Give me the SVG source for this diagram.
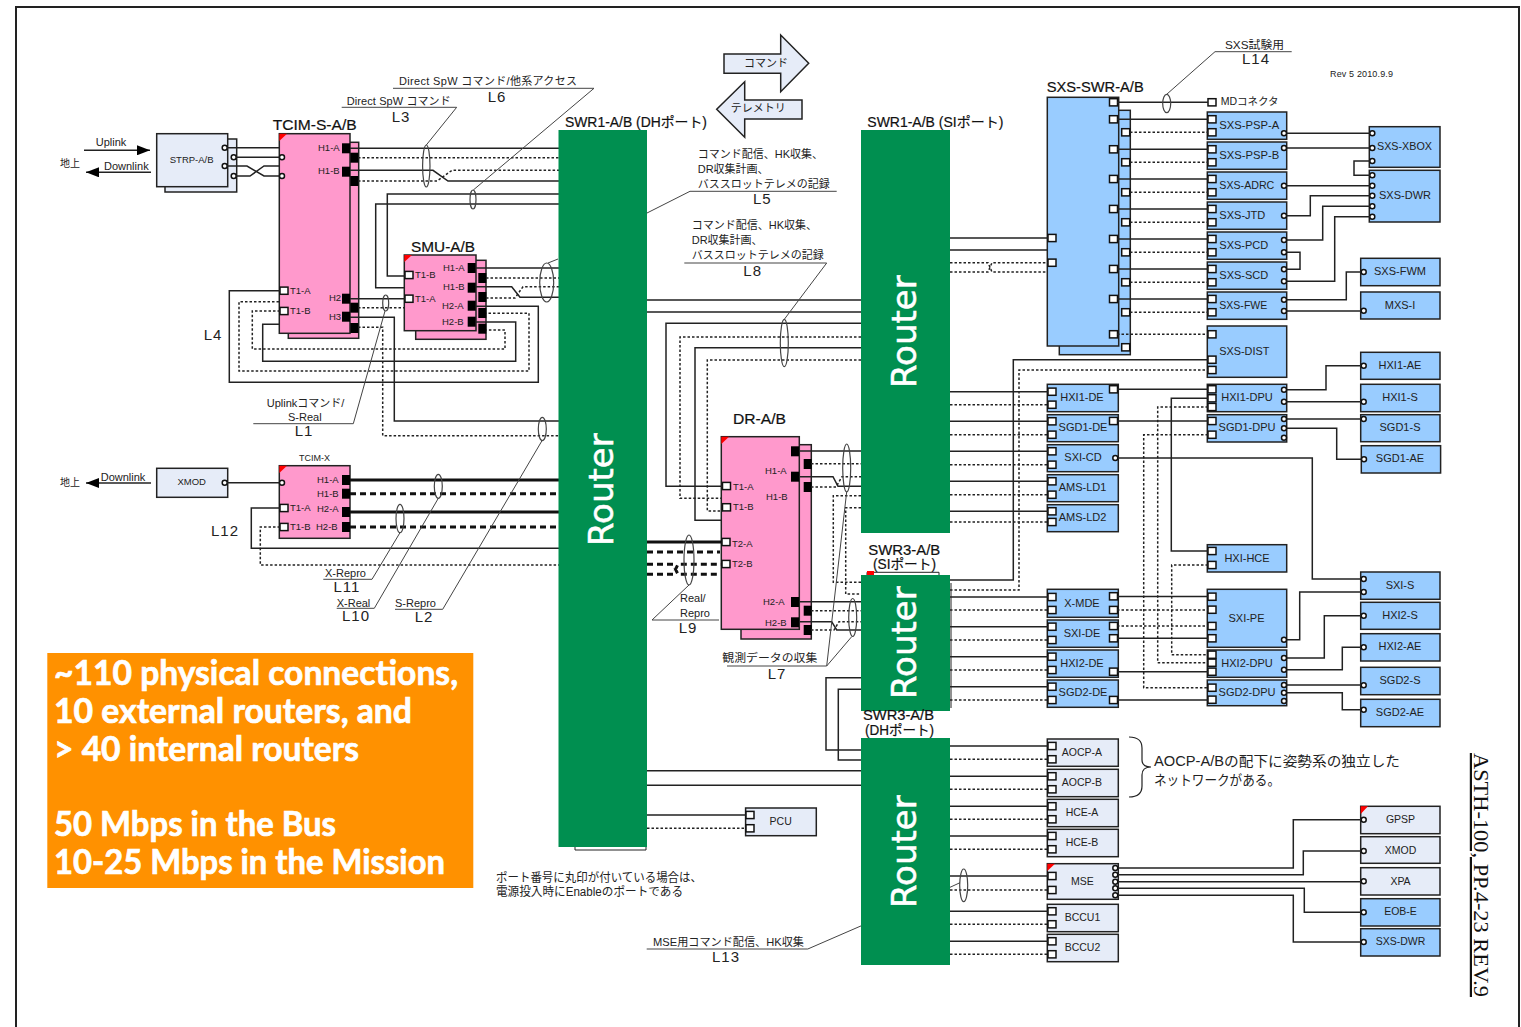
<svg xmlns="http://www.w3.org/2000/svg" width="1521" height="1027" viewBox="0 0 1521 1027">
<style>
text{font-family:"Liberation Sans","Noto Sans CJK JP",sans-serif;fill:#222}
.c{dominant-baseline:central}
.m{text-anchor:middle}
.n{font-size:11px}
.p{font-size:9.5px}
.t{font-size:14px;fill:#111;stroke:#111;stroke-width:.2}
.l{font-size:15px;text-anchor:middle;letter-spacing:1px}
.rt{font-family:"DejaVu Sans",sans-serif;font-size:34px;fill:#fff;stroke:#fff;stroke-width:.5}
.o{font-family:Lato,"Open Sans",sans-serif;font-weight:700;font-size:34px;fill:#fff;stroke:#fff;stroke-width:.7}
.router{fill:#008f50}
.pk{fill:#ff99cc;stroke:#222;stroke-width:1.5}
.bl{fill:#99ccff;stroke:#222;stroke-width:1.5}
.gr{fill:#e6ecf8;stroke:#222;stroke-width:1.5}
.red{fill:#f00}
path,line{fill:none}
.s{stroke:#222;stroke-width:1.5;fill:none}
.d{stroke:#222;stroke-width:1.5;stroke-dasharray:2.5 2;fill:none}
.ts{stroke:#111;stroke-width:3;fill:none}
.td{stroke:#111;stroke-width:3;stroke-dasharray:6 4;fill:none}
.g{stroke:#444;stroke-width:1;fill:none}
.e{stroke:#444;stroke-width:1.2;fill:none}
.pw{fill:#fff;stroke:#111;stroke-width:1.5}
.pb{fill:#000}
.pc{fill:#fff;stroke:#111;stroke-width:1.5}
</style>
<defs>
<rect id="w" class="pw" x="-4" y="-3.6" width="8" height="7.2"/>
<rect id="b" class="pb" x="-4" y="-5" width="8" height="10"/>
<circle id="o" class="pc" r="2.5"/>
<marker id="ah" markerUnits="userSpaceOnUse" markerWidth="14" markerHeight="10" refX="13" refY="5" orient="auto-start-reverse"><path d="M0,0L13,5L0,10Z" style="fill:#000"/></marker>
</defs>
<rect width="1521" height="1027" fill="#fff"/>
<path d="M16,1027V7H1519V1027" style="stroke:#222;stroke-width:2"/>

<g id="node-strp"><rect class="gr" x="165" y="139" width="71.7" height="53"/><rect class="gr" x="156.7" y="133.7" width="71" height="53"/><text class="p c m" x="191.7" y="159.3">STRP-A/B</text><use href="#o" x="224.7" y="147.7"/><use href="#o" x="233.7" y="157.3"/><use href="#o" x="224.7" y="166"/><use href="#o" x="233.7" y="176"/></g>

<g id="node-tcim-s"><rect class="pk" x="288.3" y="142.3" width="70.4" height="196"/><rect class="pk" x="279.3" y="133.7" width="70.7" height="199.6"/><polygon class="red" points="279.3,133.7 287,133.7 279.3,141"/>
<text class="t" x="272.7" y="130" textLength="84" lengthAdjust="spacingAndGlyphs">TCIM-S-A/B</text>
<use href="#b" x="346" y="148.3"/><use href="#b" x="346" y="171.7"/><use href="#b" x="346" y="298.7"/><use href="#b" x="346" y="316.7"/><use href="#b" x="354.3" y="157.7"/><use href="#b" x="354.3" y="181"/><use href="#b" x="354.3" y="307.7"/><use href="#b" x="354.3" y="328"/>
<use href="#o" x="282" y="157.3"/><use href="#o" x="282" y="176"/><use href="#w" x="284" y="290.7"/><use href="#w" x="284" y="311"/>
<text class="p c" x="318" y="147.5">H1-A</text><text class="p c" x="318" y="170.5">H1-B</text><text class="p c" x="329" y="297.5">H2</text><text class="p c" x="329" y="316.5">H3</text><text class="p c" x="290" y="290">T1-A</text><text class="p c" x="290" y="310.5">T1-B</text></g>

<g id="node-smu"><rect class="pk" x="415.7" y="260.3" width="70.3" height="79"/><rect class="pk" x="404.3" y="255" width="71.7" height="75.7"/><polygon class="red" points="404.3,255 412,255 404.3,262"/>
<text class="t" x="411" y="252" textLength="64" lengthAdjust="spacingAndGlyphs">SMU-A/B</text>
<use href="#b" x="471.7" y="268"/><use href="#b" x="471.7" y="287.7"/><use href="#b" x="471.7" y="305.7"/><use href="#b" x="471.7" y="321.7"/><use href="#b" x="482.3" y="278"/><use href="#b" x="482.3" y="297"/><use href="#b" x="482.3" y="313"/><use href="#b" x="482.3" y="328.7"/>
<use href="#w" x="409" y="275"/><use href="#w" x="409" y="298.7"/>
<text class="p c" x="443" y="267.5">H1-A</text><text class="p c" x="443" y="286.5">H1-B</text><text class="p c" x="442" y="305">H2-A</text><text class="p c" x="442" y="321">H2-B</text><text class="p c" x="415" y="274.5">T1-B</text><text class="p c" x="415" y="298.5">T1-A</text></g>

<g id="node-xmod1"><rect class="gr" x="156.7" y="468.3" width="71" height="29"/><text class="p c m" x="191.7" y="481.7">XMOD</text><use href="#o" x="224.7" y="482.7"/></g>

<g id="node-tcim-x"><rect class="pk" x="279.3" y="465.7" width="70.7" height="72.6"/><polygon class="red" points="279.3,465.7 287,465.7 279.3,473"/>
<text class="m" x="314.5" y="460.7" style="font-size:9px">TCIM-X</text>
<use href="#b" x="346" y="480"/><use href="#b" x="346" y="493.7"/><use href="#b" x="346" y="512"/><use href="#b" x="346" y="527"/><use href="#o" x="282" y="482.7"/><use href="#w" x="284" y="508"/><use href="#w" x="284" y="527"/>
<text class="p c" x="317" y="479.5">H1-A</text><text class="p c" x="317" y="493">H1-B</text><text class="p c" x="317" y="508">H2-A</text><text class="p c" x="316" y="526.5">H2-B</text><text class="p c" x="290" y="507.5">T1-A</text><text class="p c" x="290" y="526.5">T1-B</text></g>

<g id="node-dr"><rect class="pk" x="741" y="444.7" width="70.3" height="194.3"/><rect class="pk" x="721.3" y="436.7" width="78" height="192.6"/><polygon class="red" points="721.3,436.7 729,436.7 721.3,444"/>
<text class="t" x="733" y="424" textLength="53" lengthAdjust="spacingAndGlyphs">DR-A/B</text>
<use href="#b" x="795" y="451.3"/><use href="#b" x="795" y="476.7"/><use href="#b" x="795" y="602"/><use href="#b" x="795" y="622.3"/><use href="#b" x="807.7" y="464"/><use href="#b" x="807.7" y="487"/><use href="#b" x="807.7" y="610.7"/><use href="#b" x="807.7" y="630"/>
<use href="#w" x="726.5" y="486"/><use href="#w" x="726.5" y="507.3"/><use href="#w" x="726" y="542"/><use href="#w" x="726" y="564"/>
<text class="p c" x="765" y="470">H1-A</text><text class="p c" x="766" y="496.7">H1-B</text><text class="p c" x="763" y="601.7">H2-A</text><text class="p c" x="765" y="622.7">H2-B</text><text class="p c" x="733" y="486.7">T1-A</text><text class="p c" x="733" y="506.7">T1-B</text><text class="p c" x="732" y="543.3">T2-A</text><text class="p c" x="732" y="563.7">T2-B</text></g>

<g id="node-pcu"><rect class="gr" x="745.6" y="808" width="70.7" height="27.7"/><use href="#w" x="750" y="815"/><use href="#w" x="750" y="828.3"/><text class="p c m" x="780.7" y="821" style="font-size:10.5px">PCU</text></g>

<g id="node-sxs-swr"><rect class="bl" x="1059.3" y="110.3" width="71" height="244.4"/><rect class="bl" x="1047.3" y="97.3" width="71.4" height="248.7"/>
<text class="t" x="1046.7" y="92.3" textLength="97" lengthAdjust="spacingAndGlyphs">SXS-SWR-A/B</text>
<use href="#w" x="1052" y="238"/><use href="#w" x="1052" y="262.7"/>
<use href="#w" x="1113.5" y="102.3"/><use href="#w" x="1113.5" y="119.3"/><use href="#w" x="1113.5" y="149.3"/><use href="#w" x="1113.5" y="179"/><use href="#w" x="1113.5" y="209"/><use href="#w" x="1113.5" y="239"/><use href="#w" x="1113.5" y="269"/><use href="#w" x="1113.5" y="299"/><use href="#w" x="1113.5" y="334.3"/>
<use href="#w" x="1125.7" y="132.3"/><use href="#w" x="1125.7" y="162.3"/><use href="#w" x="1125.7" y="192.3"/><use href="#w" x="1125.7" y="222.3"/><use href="#w" x="1125.7" y="252.3"/><use href="#w" x="1125.7" y="282.3"/><use href="#w" x="1125.7" y="312.3"/><use href="#w" x="1125.7" y="347.3"/></g>

<g id="node-md"><use href="#w" x="1212" y="102.3"/><text class="c" x="1220.7" y="101" style="font-size:10.5px">MDコネクタ</text></g>

<g id="node-sxs-psp-a"><rect class="bl" x="1207.3" y="112" width="79.4" height="27.3"/><use href="#w" x="1212" y="119.3"/><use href="#w" x="1212" y="132.3"/><use href="#o" x="1284" y="133.3"/><text class="n c" x="1219.3" y="125" textLength="60" lengthAdjust="spacingAndGlyphs">SXS-PSP-A</text></g>
<g id="node-sxs-psp-b"><rect class="bl" x="1207.3" y="142" width="79.4" height="27.3"/><use href="#w" x="1212" y="149.3"/><use href="#w" x="1212" y="162.3"/><use href="#o" x="1284" y="148"/><text class="n c" x="1219.3" y="155" textLength="60" lengthAdjust="spacingAndGlyphs">SXS-PSP-B</text></g>
<g id="node-sxs-adrc"><rect class="bl" x="1207.3" y="172" width="79.4" height="27.3"/><use href="#w" x="1212" y="179"/><use href="#w" x="1212" y="192.3"/><use href="#o" x="1284" y="185.7"/><text class="n c" x="1219.3" y="185" textLength="55" lengthAdjust="spacingAndGlyphs">SXS-ADRC</text></g>
<g id="node-sxs-jtd"><rect class="bl" x="1207.3" y="202" width="79.4" height="27.3"/><use href="#w" x="1212" y="209"/><use href="#w" x="1212" y="222.3"/><use href="#o" x="1284" y="215.7"/><text class="n c" x="1219.3" y="215" textLength="46" lengthAdjust="spacingAndGlyphs">SXS-JTD</text></g>
<g id="node-sxs-pcd"><rect class="bl" x="1207.3" y="232" width="79.4" height="27.3"/><use href="#w" x="1212" y="239"/><use href="#w" x="1212" y="252.3"/><use href="#o" x="1284" y="240"/><use href="#o" x="1284" y="252.3"/><text class="n c" x="1219.3" y="245" textLength="49" lengthAdjust="spacingAndGlyphs">SXS-PCD</text></g>
<g id="node-sxs-scd"><rect class="bl" x="1207.3" y="262" width="79.4" height="27.3"/><use href="#w" x="1212" y="269"/><use href="#w" x="1212" y="282.3"/><use href="#o" x="1284" y="269.3"/><use href="#o" x="1284" y="281.3"/><text class="n c" x="1219.3" y="275" textLength="49" lengthAdjust="spacingAndGlyphs">SXS-SCD</text></g>
<g id="node-sxs-fwe"><rect class="bl" x="1207.3" y="292" width="79.4" height="27.3"/><use href="#w" x="1212" y="299"/><use href="#w" x="1212" y="312.3"/><use href="#o" x="1284" y="299.7"/><use href="#o" x="1284" y="311"/><text class="n c" x="1219.3" y="305" textLength="48" lengthAdjust="spacingAndGlyphs">SXS-FWE</text></g>
<g id="node-sxs-dist"><rect class="bl" x="1207.3" y="326" width="79.4" height="51.3"/><use href="#w" x="1212" y="334.3"/><use href="#w" x="1212" y="359.7"/><use href="#w" x="1212" y="370"/><text class="n c" x="1219.3" y="351" textLength="50" lengthAdjust="spacingAndGlyphs">SXS-DIST</text></g>

<g id="node-sxs-xbox"><rect class="bl" x="1369.3" y="126.7" width="70.7" height="40.6"/><use href="#o" x="1372.3" y="133.3"/><use href="#o" x="1372.3" y="148"/><use href="#o" x="1372.3" y="161"/><text class="n c" x="1377" y="146" textLength="55" lengthAdjust="spacingAndGlyphs">SXS-XBOX</text></g>
<g id="node-sxs-dwr"><rect class="bl" x="1369.3" y="170.3" width="70.7" height="51.7"/><use href="#o" x="1372.3" y="175.3"/><use href="#o" x="1372.3" y="185.7"/><use href="#o" x="1372.3" y="195.7"/><use href="#o" x="1372.3" y="206.3"/><use href="#o" x="1372.3" y="216.7"/><text class="n c m" x="1405" y="195">SXS-DWR</text></g>
<g id="node-sxs-fwm"><rect class="bl" x="1360.7" y="258.3" width="79.3" height="27.4"/><use href="#o" x="1363.7" y="272"/><text class="n c m" x="1400" y="271">SXS-FWM</text></g>
<g id="node-mxs-i"><rect class="bl" x="1360.7" y="292" width="79.3" height="27"/><use href="#o" x="1363.7" y="310.7"/><text class="n c m" x="1400" y="305">MXS-I</text></g>
<g id="node-hxi1-ae"><rect class="bl" x="1360.7" y="352.3" width="79.3" height="27"/><use href="#o" x="1363.7" y="365.7"/><text class="n c m" x="1400" y="365">HXI1-AE</text></g>
<g id="node-hxi1-s"><rect class="bl" x="1360.7" y="384.3" width="79.3" height="27.4"/><use href="#o" x="1363.7" y="401.7"/><text class="n c m" x="1400" y="397">HXI1-S</text></g>
<g id="node-sgd1-s"><rect class="bl" x="1360.7" y="414.7" width="79.3" height="27"/><use href="#o" x="1363.7" y="419"/><text class="n c m" x="1400" y="427">SGD1-S</text></g>
<g id="node-sgd1-ae"><rect class="bl" x="1361.3" y="445.7" width="79.3" height="27.3"/><use href="#o" x="1364" y="459.3"/><text class="n c m" x="1400" y="458">SGD1-AE</text></g>
<g id="node-sxi-s"><rect class="bl" x="1360.7" y="572" width="79.3" height="27.3"/><use href="#o" x="1363.7" y="579"/><use href="#o" x="1363.7" y="592"/><text class="n c m" x="1400" y="585">SXI-S</text></g>
<g id="node-hxi2-s"><rect class="bl" x="1360.7" y="602.3" width="79.3" height="27"/><use href="#o" x="1363.7" y="615.7"/><text class="n c m" x="1400" y="615">HXI2-S</text></g>
<g id="node-hxi2-ae"><rect class="bl" x="1360.7" y="633.7" width="79.3" height="27.3"/><use href="#o" x="1363.7" y="647.3"/><text class="n c m" x="1400" y="646">HXI2-AE</text></g>
<g id="node-sgd2-s"><rect class="bl" x="1360.7" y="667.3" width="79.3" height="27.4"/><use href="#o" x="1363.7" y="685.3"/><text class="n c m" x="1400" y="680">SGD2-S</text></g>
<g id="node-sgd2-ae"><rect class="bl" x="1360.7" y="699.3" width="79.3" height="27.4"/><use href="#o" x="1363.7" y="709.7"/><text class="n c m" x="1400" y="712">SGD2-AE</text></g>

<g id="node-hxi1-de"><rect class="bl" x="1047.3" y="384.3" width="71" height="27.4"/><use href="#w" x="1052" y="391.7"/><use href="#w" x="1052" y="404.7"/><use href="#w" x="1113.5" y="389.3"/><text class="n c m" x="1082" y="397">HXI1-DE</text></g>
<g id="node-sgd1-de"><rect class="bl" x="1047.3" y="414.7" width="71" height="27"/><use href="#w" x="1052" y="421.3"/><use href="#w" x="1052" y="434.7"/><use href="#w" x="1113.5" y="421"/><text class="n c m" x="1083" y="427">SGD1-DE</text></g>
<g id="node-sxi-cd"><rect class="bl" x="1047.3" y="444.7" width="71" height="27"/><use href="#w" x="1052" y="451.3"/><use href="#w" x="1052" y="464.7"/><use href="#o" x="1115.3" y="458"/><text class="n c m" x="1083" y="457">SXI-CD</text></g>
<g id="node-ams-ld1"><rect class="bl" x="1047.3" y="474.7" width="71" height="27"/><use href="#w" x="1052" y="481.3"/><use href="#w" x="1052" y="494.7"/><text class="n c m" x="1082.5" y="487">AMS-LD1</text></g>
<g id="node-ams-ld2"><rect class="bl" x="1047.3" y="504.7" width="71" height="27"/><use href="#w" x="1052" y="511.3"/><use href="#w" x="1052" y="522"/><text class="n c m" x="1082.5" y="517">AMS-LD2</text></g>
<g id="node-x-mde"><rect class="bl" x="1047.3" y="589.3" width="71" height="28"/><use href="#w" x="1052" y="597"/><use href="#w" x="1052" y="610"/><use href="#w" x="1113.5" y="596.3"/><use href="#w" x="1113.5" y="610"/><text class="n c m" x="1082" y="603">X-MDE</text></g>
<g id="node-sxi-de"><rect class="bl" x="1047.3" y="620" width="71" height="27.3"/><use href="#w" x="1052" y="626.7"/><use href="#w" x="1052" y="640"/><use href="#w" x="1113.5" y="626"/><use href="#w" x="1113.5" y="638.3"/><text class="n c m" x="1082" y="632.5">SXI-DE</text></g>
<g id="node-hxi2-de"><rect class="bl" x="1047.3" y="650" width="71" height="27.3"/><use href="#w" x="1052" y="656.7"/><use href="#w" x="1052" y="670"/><use href="#w" x="1113.5" y="671.7"/><text class="n c m" x="1082" y="663">HXI2-DE</text></g>
<g id="node-sgd2-de"><rect class="bl" x="1047.3" y="680" width="71" height="27.3"/><use href="#w" x="1052" y="686.7"/><use href="#w" x="1052" y="700"/><use href="#w" x="1113.5" y="700"/><text class="n c m" x="1083" y="692">SGD2-DE</text></g>

<g id="node-hxi1-dpu"><rect class="bl" x="1207.3" y="384.3" width="79.4" height="27.4"/><use href="#w" x="1212" y="389.3"/><use href="#w" x="1212" y="398.3"/><use href="#w" x="1212" y="407"/><use href="#o" x="1284" y="389.7"/><use href="#o" x="1284" y="401.7"/><text class="n c m" x="1247" y="397">HXI1-DPU</text></g>
<g id="node-sgd1-dpu"><rect class="bl" x="1207.3" y="414.7" width="79.4" height="27.3"/><use href="#w" x="1212" y="421"/><use href="#w" x="1212" y="434.7"/><use href="#o" x="1284" y="419"/><use href="#o" x="1284" y="428.3"/><use href="#o" x="1284" y="437.7"/><text class="n c m" x="1247" y="427">SGD1-DPU</text></g>
<g id="node-hxi-hce"><rect class="bl" x="1207.3" y="544.7" width="79.4" height="27.3"/><use href="#w" x="1212" y="551"/><use href="#w" x="1212" y="565"/><text class="n c m" x="1247" y="557.5">HXI-HCE</text></g>
<g id="node-sxi-pe"><rect class="bl" x="1207.3" y="589.3" width="79.4" height="58"/><use href="#w" x="1212" y="596.7"/><use href="#w" x="1212" y="609.7"/><use href="#w" x="1212" y="626"/><use href="#w" x="1212" y="638.3"/><use href="#o" x="1284" y="639.7"/><text class="n c m" x="1246.5" y="617.5">SXI-PE</text></g>
<g id="node-hxi2-dpu"><rect class="bl" x="1207.3" y="650" width="79.4" height="27.3"/><use href="#w" x="1212" y="654.7"/><use href="#w" x="1212" y="662.7"/><use href="#w" x="1212" y="671.7"/><use href="#o" x="1284" y="658"/><use href="#o" x="1284" y="669.7"/><text class="n c m" x="1247" y="663">HXI2-DPU</text></g>
<g id="node-sgd2-dpu"><rect class="bl" x="1207.3" y="680" width="79.4" height="25.7"/><use href="#w" x="1212" y="687.7"/><use href="#w" x="1212" y="699.7"/><use href="#o" x="1284" y="685"/><use href="#o" x="1284" y="692.7"/><use href="#o" x="1284" y="701"/><text class="n c m" x="1247" y="692">SGD2-DPU</text></g>

<g id="node-aocp-a"><rect class="gr" x="1047.3" y="739" width="71" height="27.3"/><use href="#w" x="1052" y="746"/><use href="#w" x="1052" y="759.3"/><text class="p c m" x="1082" y="751.7" style="font-size:10.5px">AOCP-A</text></g>
<g id="node-aocp-b"><rect class="gr" x="1047.3" y="769.3" width="71" height="27.4"/><use href="#w" x="1052" y="776.3"/><use href="#w" x="1052" y="789.3"/><text class="p c m" x="1082" y="782" style="font-size:10.5px">AOCP-B</text></g>
<g id="node-hce-a"><rect class="gr" x="1047.3" y="799.3" width="71" height="27.4"/><use href="#w" x="1052" y="806.3"/><use href="#w" x="1052" y="819.3"/><text class="p c m" x="1082" y="812" style="font-size:10.5px">HCE-A</text></g>
<g id="node-hce-b"><rect class="gr" x="1047.3" y="829.3" width="71" height="27.4"/><use href="#w" x="1052" y="836"/><use href="#w" x="1052" y="849.3"/><text class="p c m" x="1082" y="842" style="font-size:10.5px">HCE-B</text></g>
<g id="node-mse"><rect class="gr" x="1047.3" y="863.7" width="71" height="35.6"/><polygon class="red" points="1047.3,863.7 1055,863.7 1047.3,871"/><use href="#w" x="1052" y="876"/><use href="#w" x="1052" y="890"/><use href="#o" x="1115.3" y="868"/><use href="#o" x="1115.3" y="874.7"/><use href="#o" x="1115.3" y="881.7"/><use href="#o" x="1115.3" y="888.3"/><use href="#o" x="1115.3" y="895.3"/><text class="p c m" x="1082.5" y="881" style="font-size:10.5px">MSE</text></g>
<g id="node-bccu1"><rect class="gr" x="1047.3" y="904.3" width="71" height="27.4"/><use href="#w" x="1052" y="911.3"/><use href="#w" x="1052" y="924.3"/><text class="p c m" x="1082.5" y="917" style="font-size:10.5px">BCCU1</text></g>
<g id="node-bccu2"><rect class="gr" x="1047.3" y="934.3" width="71" height="27.4"/><use href="#w" x="1052" y="941.3"/><use href="#w" x="1052" y="954.3"/><text class="p c m" x="1082.5" y="947" style="font-size:10.5px">BCCU2</text></g>
<g id="node-gpsp"><rect class="gr" x="1360.7" y="806.3" width="79.3" height="27.4"/><polygon class="red" points="1360.7,806.3 1368,806.3 1360.7,814"/><use href="#o" x="1363.7" y="819.7"/><text class="p c m" x="1400.5" y="819" style="font-size:10.5px">GPSP</text></g>
<g id="node-xmod2"><rect class="gr" x="1360.7" y="836.7" width="79.3" height="26.6"/><use href="#o" x="1363.7" y="851"/><text class="p c m" x="1400.5" y="849.5" style="font-size:10.5px">XMOD</text></g>
<g id="node-xpa"><rect class="gr" x="1360.7" y="867.7" width="79.3" height="27.3"/><use href="#o" x="1363.7" y="881.3"/><text class="p c m" x="1400.5" y="881" style="font-size:10.5px">XPA</text></g>
<g id="node-eob-e"><rect class="bl" x="1360.7" y="898.7" width="79.3" height="27.3"/><use href="#o" x="1363.7" y="912.3"/><text class="p c m" x="1400.5" y="911" style="font-size:10.5px">EOB-E</text></g>
<g id="node-sxs-dwr2"><rect class="bl" x="1360.7" y="928.7" width="79.3" height="27.3"/><use href="#o" x="1363.7" y="942"/><text class="p c m" x="1400.5" y="941" style="font-size:10.5px">SXS-DWR</text></g>

<g id="swr3-back"><path d="M867,575V572.3H939V575" style="stroke:#222;stroke-width:1"/><rect class="red" x="867" y="571" width="7" height="4"/><path d="M575,847V850H646V847M951,583V708" style="stroke:#222;stroke-width:1"/></g>

<g id="connectors">
<line x1="84" y1="150.3" x2="150" y2="150.3" class="s" marker-end="url(#ah)"/>
<line x1="151" y1="172.3" x2="86" y2="172.3" class="s" marker-end="url(#ah)"/>
<line x1="151" y1="483" x2="86" y2="483" class="s" marker-end="url(#ah)"/>
<path class="s" d="M227,147.7H279M236,157.3H279.5M227,166H247L264,176H279.5M236,176H250L264,166H279"/>
<path class="s" d="M350,148.3H559M350,170.3H433L448,181H559"/>
<path class="d" d="M358,157.7H559M358,181H437L452,170.3H559"/>
<path class="s" d="M405,276H387.3V194H559M405,287.7H375.7V204H559"/>
<path class="s" d="M476,268H559M476,286.7H511.7L520,297.3H559"/>
<path class="d" d="M486,278H559M486,298H515L523,286.7H559"/>
<path class="s" d="M350,298.7H405M350,317.3H394.3V421H559"/>
<path class="d" d="M358,307.7H405M358,327.3H382.7V435.7H559"/>
<path class="s" d="M280,290.7H229.3V382.3H538.3V306.3H476M279,324.3H262.7V361.3H515.7V322H476"/>
<path class="d" d="M280,311H252.3V349H505V330H486M279,301.7H239V371H529V313.3H486"/>
<path class="s" d="M227,482.7H279.5"/>
<path class="ts" d="M350,480H559M350,512H559"/>
<path class="td" d="M350,493.7H559M350,527H559"/>
<path class="s" d="M280,508H251.3V548.3H559"/>
<path class="d" d="M280,527H260.3V565H559"/>
<path class="s" d="M647,300H861M647,312H861M861,323.3H666V486.3H722.5M861,347.7H695V520.3H721"/>
<path class="d" d="M861,337H680V498.3H721M861,360H707.3V511H722.5"/>
<path class="ts" d="M647,542H722"/>
<path class="td" d="M647,552H720M647,564.3H673L678,574.3H720M647,574.3H673L678,564.3H722"/>
<path class="s" d="M799,451H861M799,476.7H833L838,486.3H861M799,601.7H861M799,621.7H831.7L836.7,630H861"/>
<path class="d" d="M811,463.7H861M811,487H836L842,476.7H861M861,495.7H833.3V582.3H861M861,507.7H845.7V594H861M811,610.7H861M811,630H834L839,621.7H861"/>
<path class="s" d="M861,677.7H826V750H861M861,689.3H838.3V760H861M647,770.7H861M647,785.3H861M647,815H746"/>
<path class="d" d="M647,828.3H746"/>
<path class="s" d="M950,238H1048M950,250H1048"/>
<path class="d" d="M950,262.7H988L992,272H1048M950,272H988L992,262.7H1048"/>
<path class="s" d="M1117,102.3H1208M1117,119.3H1208M1117,149.3H1208M1117,179H1208M1117,209H1208M1117,239H1208M1117,269H1208M1117,299H1208"/>
<path class="d" d="M1130,132.3H1208M1130,162.3H1208M1130,192.3H1208M1130,222.3H1208M1130,252.3H1208M1130,282.3H1208M1130,312.3H1208M1117,334.3H1208"/>
<path class="s" d="M950,580H1013.3V359.7H1208"/>
<path class="d" d="M950,590H1019V370H1208"/>
<path class="s" d="M1286.5,133.3H1370M1286.5,148H1370M1370,161H1354V175.3H1370M1286.5,185.7H1370M1286.5,215.7H1310.3V195.7H1370M1286.5,240H1322.7V206.3H1370M1286.5,281.3H1334.7V216.7H1370M1286.5,252.3H1300V269.3H1286.5M1286.5,299.7H1346.3V272H1361M1286.5,311H1361"/>
<path class="s" d="M950,391.7H1048M950,421.3H1048M950,451.3H1048M950,481.3H1048M950,511.3H1048"/>
<path class="d" d="M950,404.7H1048M950,434.7H1048M950,464.7H1048M950,494.7H1048M950,522H1048"/>
<path class="s" d="M950,597H1048M950,626.7H1048M950,656.7H1048M950,686.7H1048"/>
<path class="d" d="M950,610H1048M950,640H1048M950,670H1048M950,700H1048"/>
<path class="s" d="M1117,389.3H1208M1117,421H1208M1117,596.5H1208M1117,638.3H1208M1117,671.7H1208M1117,700H1208"/>
<path class="d" d="M1117,610H1208M1117,626H1208"/>
<path class="s" d="M1208,398.3H1171.3V551H1208"/>
<path class="d" d="M1208,407H1157.7V662.7H1208M1208,434.7H1143.7V687.7H1208M1208,565H1171.7V654.7H1208"/>
<path class="s" d="M1118,458H1312.3V579H1361"/>
<path class="s" d="M1286.5,389.7H1326V365.7H1361M1286.5,401.7H1361M1286.5,419H1361M1286.5,428.3H1336.7V459.3H1361.5M1286.5,639.7H1299.7V592H1361M1286.5,658H1324.3V615.7H1361M1286.5,669.7H1342.3V647.3H1361M1286.5,685H1361M1286.5,692.7H1342.3V709.7H1361"/>
<path class="s" d="M950,746H1048M950,776.3H1048M950,806.3H1048M950,836H1048M950,876H1048M950,911.3H1048M950,941.3H1048"/>
<path class="d" d="M950,759.3H1048M950,789.3H1048M950,819.3H1048M950,849.3H1048M950,890H1048M950,924.3H1048M950,954.3H1048"/>
<path class="s" d="M1118,868H1293.3V819.7H1361M1118,874.7H1303.3V851H1361M1118,881.7H1361M1118,888.3H1304.3V912.3H1361M1118,895.3H1293.3V942H1361"/>
<g id="bundles">
<ellipse class="e" cx="426.3" cy="166" rx="3.7" ry="21"/><ellipse class="e" cx="473" cy="199.5" rx="3" ry="9.5"/><ellipse class="e" cx="546.7" cy="282.5" rx="7" ry="19.5"/><ellipse class="e" cx="385.7" cy="303" rx="3" ry="8"/><ellipse class="e" cx="542.3" cy="429" rx="4" ry="11.7"/><ellipse class="e" cx="438.3" cy="486.3" rx="4" ry="12"/><ellipse class="e" cx="400" cy="518.5" rx="4" ry="14.2"/><ellipse class="e" cx="784.3" cy="343" rx="4" ry="23.7"/><ellipse class="e" cx="689" cy="560" rx="5" ry="25"/><ellipse class="e" cx="846.7" cy="468" rx="4" ry="24"/><ellipse class="e" cx="852.7" cy="617.5" rx="4" ry="19"/><ellipse class="e" cx="1166.7" cy="103.5" rx="4" ry="9.2"/><ellipse class="e" cx="963.7" cy="885.3" rx="4" ry="16.3"/>
</g>
<path class="g" d="M426.3,145L456.7,107.3H341.7M393,88.3H594L473.3,190M548,263L558,259M385,311L353.3,423.7H253.3M542,440.7L442.7,609.3H395M400,532.7L372,579.3H323.3M438.3,498.3L374.3,608.3H336.7M689,585L652,620H719M727,666H826.7L846.7,491.7M826.7,666L851.7,636.7M684.3,263H826.7L784.3,319.3M836.7,191.3H690L647,213M1166.7,94.3L1215,51.7H1291.7M646.7,949H807.8L861.5,925.7M960,882.7L950,887.3"/>
<path class="s" style="stroke-width:1.2" d="M1129,737Q1142,737 1142,748V760Q1142,767 1151,767Q1142,767 1142,775V786Q1142,797 1129,797"/>
</g>

<g id="router-swr1-dh"><rect class="router" x="558.5" y="130" width="88.5" height="717"/><text class="rt" transform="translate(613,546) rotate(-90)">Router</text></g>
<g id="router-swr1-si"><rect class="router" x="861" y="130" width="89" height="403"/><text class="rt" transform="translate(916,388) rotate(-90)">Router</text></g>
<g id="router-swr3-si"><rect class="router" x="861" y="575" width="89" height="136"/><text class="rt" transform="translate(916,699) rotate(-90)">Router</text></g>
<g id="router-swr3-dh"><rect class="router" x="861" y="738" width="89" height="227"/><text class="rt" transform="translate(916,908) rotate(-90)">Router</text></g>

<g id="arrows">
<polygon class="gr" points="724,54 780.7,54 780.7,35 808.7,63.3 780.7,91.7 780.7,73.3 724,73.3"/><text class="p c m" x="766" y="62.7" style="font-size:11px">コマンド</text>
<polygon class="gr" points="802,100 744.7,100 744.7,81.7 716.7,109.3 744.7,137.3 744.7,119 802,119"/><text class="p c m" x="758.3" y="108.3" style="font-size:11px">テレメトリ</text>
</g>

<g id="labels">
<text x="95.7" y="146" class="n">Uplink</text><text x="104" y="170" class="n">Downlink</text><text x="60" y="166.7" style="font-size:10px">地上</text>
<text x="100.7" y="480.7" class="n">Downlink</text><text x="60" y="486" style="font-size:10px">地上</text>
<text x="346.7" y="105" class="n" textLength="104">Direct SpW コマンド</text><text x="401" y="122" class="l">L3</text>
<text x="399" y="85" class="n" textLength="178">Direct SpW コマンド/他系アクセス</text><text x="497" y="102" class="l">L6</text>
<text x="213" y="340" class="l">L4</text>
<text x="266.7" y="406.7" class="n">Uplinkコマンド/</text><text x="288" y="420.7" class="n">S-Real</text><text x="304" y="435.7" class="l">L1</text>
<text x="395" y="606.7" class="n">S-Repro</text><text x="424" y="621.7" class="l">L2</text>
<text x="325" y="577.3" class="n">X-Repro</text><text x="347" y="591.7" class="l">L11</text>
<text x="336.7" y="606.7" class="n">X-Real</text><text x="356" y="621" class="l">L10</text>
<text x="225" y="536" class="l">L12</text>
<text x="565" y="127.3" class="t" textLength="142" lengthAdjust="spacingAndGlyphs">SWR1-A/B (DHポート)</text>
<text x="867.3" y="127.3" class="t" textLength="136" lengthAdjust="spacingAndGlyphs">SWR1-A/B (SIポート)</text>
<text x="697.7" y="158.3" class="n">コマンド配信、HK収集、</text><text x="697.7" y="173.3" class="n">DR収集計画、</text><text x="697.7" y="188.3" class="n">バススロットテレメの記録</text><text x="762.3" y="204" class="l">L5</text>
<text x="691.7" y="229.3" class="n">コマンド配信、HK収集、</text><text x="691.7" y="244.3" class="n">DR収集計画、</text><text x="691.7" y="259" class="n">バススロットテレメの記録</text><text x="752.7" y="275.7" class="l">L8</text>
<text x="680" y="601.7" class="n">Real/</text><text x="680" y="616.7" class="n">Repro</text><text x="688" y="633.3" class="l">L9</text>
<text x="722.3" y="661.7" class="n" textLength="95" lengthAdjust="spacingAndGlyphs">観測データの収集</text><text x="777" y="679.3" class="l">L7</text>
<text x="868.3" y="555" class="t" textLength="72" lengthAdjust="spacingAndGlyphs">SWR3-A/B</text><text x="873" y="569" class="t" textLength="63" lengthAdjust="spacingAndGlyphs">(SIポート)</text>
<text x="863" y="720" class="t" textLength="71" lengthAdjust="spacingAndGlyphs">SWR3-A/B</text><text x="865" y="735" class="t" textLength="69" lengthAdjust="spacingAndGlyphs">(DHポート)</text>
<text x="496" y="881.7" textLength="206" lengthAdjust="spacingAndGlyphs" style="font-size:12px">ポート番号に丸印が付いている場合は、</text><text x="496" y="896" textLength="187" lengthAdjust="spacingAndGlyphs" style="font-size:12px">電源投入時にEnableのポートである</text>
<text x="653" y="945.7" class="n" textLength="151" lengthAdjust="spacingAndGlyphs">MSE用コマンド配信、HK収集</text><text x="726" y="961.7" class="l">L13</text>
<text x="1225" y="48.7" class="n" textLength="59" lengthAdjust="spacingAndGlyphs">SXS試験用</text><text x="1256" y="64" class="l">L14</text>
<text x="1330" y="77.3" textLength="63" style="font-size:9px">Rev 5  2010.9.9</text>
<text x="1154" y="766" textLength="246" lengthAdjust="spacingAndGlyphs" style="font-size:14px">AOCP-A/Bの配下に姿勢系の独立した</text><text x="1154" y="785" textLength="126" lengthAdjust="spacingAndGlyphs" style="font-size:14px">ネットワークがある。</text>
<text transform="translate(1474,753) rotate(90)" textLength="244" lengthAdjust="spacingAndGlyphs" style="font-family:'Liberation Serif',serif;font-size:22px;text-decoration:underline;fill:#111">ASTH-100, PP.4-23 REV.9</text>
</g>

<g id="callout"><rect x="47.3" y="653" width="426" height="235" fill="#ff9100"/>
<text class="o" x="54" y="685" textLength="404" lengthAdjust="spacingAndGlyphs">~110 physical connections,</text>
<text class="o" x="54" y="723" textLength="358" lengthAdjust="spacingAndGlyphs">10 external routers, and</text>
<text class="o" x="54" y="761" textLength="305" lengthAdjust="spacingAndGlyphs">&gt; 40 internal routers</text>
<text class="o" x="54" y="836" textLength="282" lengthAdjust="spacingAndGlyphs">50 Mbps in the Bus</text>
<text class="o" x="54" y="874" textLength="391" lengthAdjust="spacingAndGlyphs">10-25 Mbps in the Mission</text>
</g>
</svg>
